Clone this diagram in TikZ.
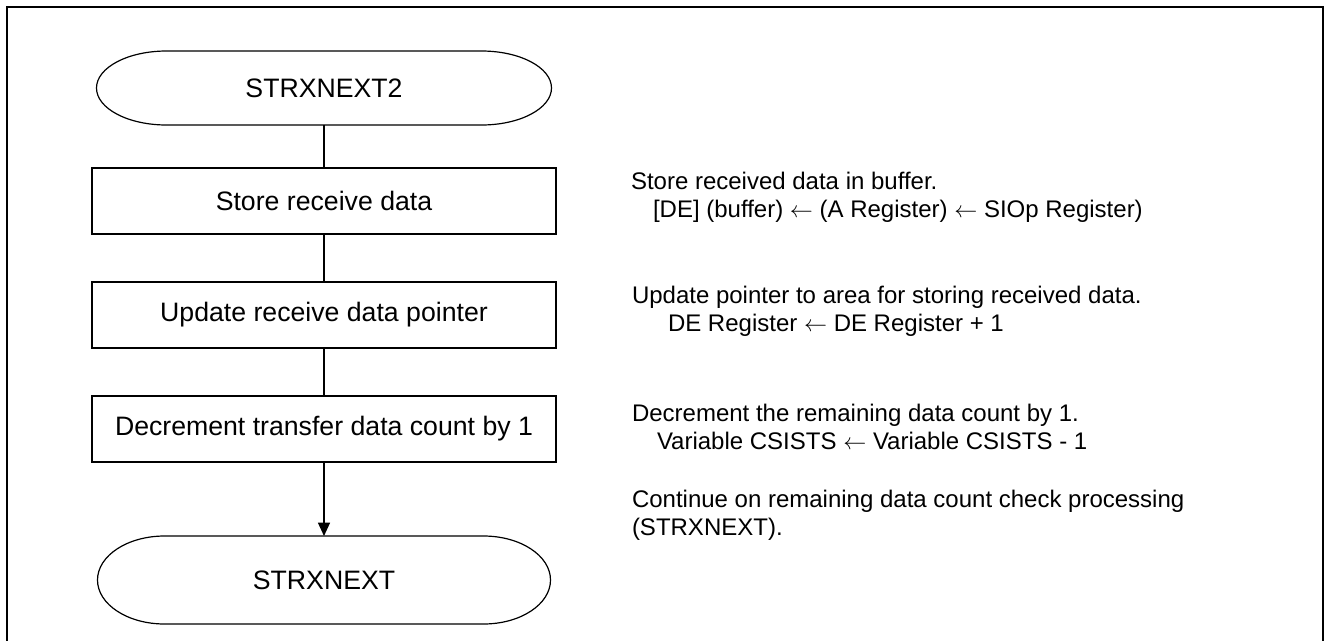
\documentclass[tikz,border=0pt]{standalone}
\usepackage{fontspec}
\setmainfont{Liberation Sans}
\usetikzlibrary{arrows.meta}
\begin{document}
\begin{tikzpicture}[x=0.75pt,y=0.75pt,
  every node/.style={inner sep=0pt, outer sep=0pt},
  procbox/.style={draw, line width=0.9pt, minimum width=348pt, minimum height=49.5pt,
    font=\fontsize{20}{24}\selectfont},
  termtext/.style={font=\fontsize{20}{24}\selectfont},
  note/.style={anchor=base west, font=\fontsize{18}{21.6}\selectfont},
  flow/.style={line width=0.9pt},
  frame/.style={line width=1.3pt}]
\useasboundingbox (0,0) rectangle (1325,-640);
% frame
\draw[frame] (7,-641) -- (7,-7) -- (1323,-7) -- (1323,-641);
% start terminal
\node[termtext, minimum width=341.25pt, minimum height=55.5pt] (start) at (324,-88) {STRXNEXT2};
\draw[flow] ([xshift=52.5pt]start.north west) -- ([xshift=-52.5pt]start.north east)
  arc[start angle=90,end angle=-90,x radius=52.5pt,y radius=27.75pt]
  -- ([xshift=52.5pt]start.south west)
  arc[start angle=270,end angle=90,x radius=52.5pt,y radius=27.75pt] -- cycle;
% boxes
\node[procbox] (b1) at (324,-201) {Store receive data};
\node[procbox] (b2) at (324,-315) {Update receive data pointer};
\node[procbox] (b3) at (324,-429) {Decrement transfer data count by 1};
% end terminal
\node[termtext, minimum width=339.75pt, minimum height=66pt] (stop) at (324,-580) {STRXNEXT};
\draw[flow] ([xshift=50.25pt]stop.north west) -- ([xshift=-50.25pt]stop.north east)
  arc[start angle=90,end angle=-90,x radius=50.25pt,y radius=33pt]
  -- ([xshift=50.25pt]stop.south west)
  arc[start angle=270,end angle=90,x radius=50.25pt,y radius=33pt] -- cycle;
% connectors
\draw[flow] (start) -- (b1);
\draw[flow] (b1) -- (b2);
\draw[flow] (b2) -- (b3);
\draw[flow, -{Triangle[length=10pt,width=9pt]}] (b3) -- (stop);
% notes
\node[note] (n1a) at (631,-189) {Store received data in buffer.};
\node[note] (n1b) at (653,-217) {[DE] (buffer) $\leftarrow$ (A Register) $\leftarrow$ SIOp Register)};
\node[note] (n2a) at (632,-303) {Update pointer to area for storing received data.};
\node[note] (n2b) at (668,-331) {DE Register $\leftarrow$ DE Register + 1};
\node[note] (n3a) at (632,-421) {Decrement the remaining data count by 1.};
\node[note] (n3b) at (657,-449) {Variable CSISTS $\leftarrow$ Variable CSISTS - 1};
\node[note] (n4a) at (632,-507) {Continue on remaining data count check processing};
\node[note] (n4b) at (632,-535) {(STRXNEXT).};
\end{tikzpicture}
\end{document}
